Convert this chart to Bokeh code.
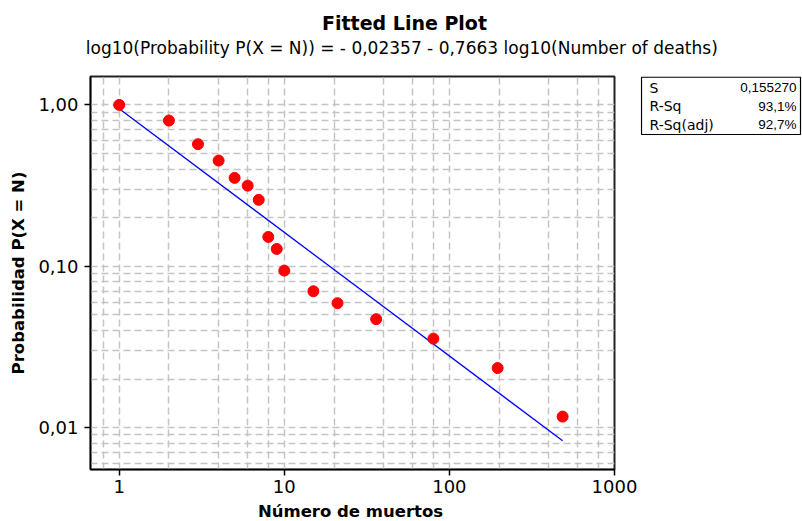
import numpy as np
from bokeh.plotting import figure
from bokeh.models import FixedTicker, ColumnDataSource, Range1d
from bokeh.layouts import column, row
from bokeh.core.properties import value
from bokeh.embed import file_html
from bokeh.resources import INLINE

# ---- data ----
deaths = [1, 2, 3, 4, 5, 6, 7, 8, 9, 10, 15, 21, 36, 80, 196, 485]
prob = [1.00, 0.80, 0.571, 0.452, 0.353, 0.316, 0.258, 0.152, 0.128, 0.094,
        0.070, 0.059, 0.047, 0.0356, 0.0234, 0.0117]
intercept = -0.02357
slope = -0.7663
x_ticks = [1, 10, 100, 1000]
x_tick_labels = ["1", "10", "100", "1000"]
y_ticks = [1.0, 0.1, 0.01]
y_tick_labels = ["1,00", "0,10", "0,01"]
stat_names = ["S", "R-Sq", "R-Sq(adj)"]
stat_values = ["0,155270", "93,1%", "92,7%"]
title_text = "Fitted Line Plot"
subtitle_text = "log10(Probability P(X = N)) =  - 0,02357 - 0,7663 log10(Number of deaths)"
x_label = "Número de muertos"
y_label = "Probabilidad P(X = N)"

FONT = "DejaVu Sans"
W, H = 802, 521
HEAD = 62           # header strip height
FOOT = 20           # footer strip height (x-axis title)
MAIN_W = 640        # main figure width
SIDE_W = W - MAIN_W
F_TOP, F_BOT = 76, 469   # frame top/bottom in canvas pixels
MAIN_H = H - HEAD - FOOT


def blank(width, height, xr, yr):
    f = figure(width=width, height=height, x_range=Range1d(*xr), y_range=Range1d(*yr),
               output_backend="svg", toolbar_location=None,
               min_border=0, min_border_left=0, min_border_right=0,
               min_border_top=0, min_border_bottom=0)
    f.axis.visible = False
    f.grid.visible = False
    f.outline_line_color = None
    f.background_fill_color = "white"
    f.border_fill_color = "white"
    return f


# ---- header (title + subtitle), canvas pixel coordinates, y downwards ----
head = blank(W, HEAD, (0, W), (HEAD, 0))
head.text(x=[404], y=[22], text=[title_text], text_font=value(FONT), text_font_size="19px",
          text_font_style="bold", text_align="center", text_baseline="middle", text_color="black")
head.text(x=[404], y=[47], text=[subtitle_text], text_font=value(FONT), text_font_size="17px",
          text_align="center", text_baseline="middle", text_color="black")

# ---- main plot ----
p = figure(width=MAIN_W, height=MAIN_H, x_axis_type="log", y_axis_type="log",
           x_range=Range1d(0.670, 1000), y_range=Range1d(0.0055, 1.50),
           output_backend="svg", toolbar_location=None,
           min_border_left=90, min_border_right=MAIN_W - 614,
           min_border_top=F_TOP - HEAD, min_border_bottom=(H - FOOT) - F_BOT)
p.title.visible = False
p.background_fill_color = "white"
p.border_fill_color = "white"
p.outline_line_color = "#222222"
p.outline_line_width = 2

xg = []
for d in [0.1, 1, 10, 100]:
    for m in [2, 4, 6, 8, 10]:
        v = m * d
        if 0.67 < v < 1000:
            xg.append(v)
yg = []
for d in [0.001, 0.01, 0.1]:
    for m in range(1, 11):
        v = m * d
        if 0.0055 < v < 1.5:
            yg.append(v)
p.xgrid.ticker = FixedTicker(ticks=xg)
p.ygrid.ticker = FixedTicker(ticks=yg)
for g in (p.xgrid, p.ygrid):
    g.grid_line_color = "#c4c4c4"
    g.grid_line_dash = "7 4"
    g.grid_line_width = 1.5

p.xaxis.ticker = FixedTicker(ticks=x_ticks)
p.yaxis.ticker = FixedTicker(ticks=y_ticks)
p.xaxis.major_label_overrides = {t: l for t, l in zip(x_ticks, x_tick_labels)}
p.yaxis.major_label_overrides = {t: l for t, l in zip(y_ticks, y_tick_labels)}
for ax in (p.xaxis, p.yaxis):
    ax.axis_line_color = "black"
    ax.axis_line_width = 1.5
    ax.major_tick_line_color = "black"
    ax.major_tick_line_width = 1.5
    ax.major_tick_out = 6
    ax.major_tick_in = 0
    ax.minor_tick_out = 0
    ax.minor_tick_in = 0
    ax.major_label_text_font = FONT
    ax.major_label_text_font_size = "18px"
    ax.major_label_text_color = "black"
    ax.axis_label_text_font = FONT
    ax.axis_label_text_font_size = "16.5px"
    ax.axis_label_text_font_style = "bold"
    ax.axis_label_text_color = "black"
p.yaxis.axis_label = y_label
p.xaxis.major_label_standoff = 4
p.yaxis.major_label_standoff = 6
p.yaxis.axis_label_standoff = 7

lx = np.array([min(deaths), max(deaths)], dtype=float)
ly = 10 ** (intercept + slope * np.log10(lx))
p.line(lx, ly, line_color="#0000ff", line_width=1.3)

src = ColumnDataSource(dict(x=deaths, y=prob))
p.scatter("x", "y", source=src, size=11, fill_color="#ff0000", line_color="#ff0000")

# ---- side panel with stats box; its frame is aligned with the main frame ----
side = blank(SIDE_W, MAIN_H, (MAIN_W, W), (F_BOT, F_TOP))
side.quad(left=[641], right=[800], top=[76.6], bottom=[134], fill_color="white",
          line_color="black", line_width=1.2)
rows_y = [87, 105.5, 124]
side.text(x=[649] * 3, y=rows_y, text=stat_names, text_font=value(FONT), text_font_size="14px",
          text_align="left", text_baseline="middle", text_color="black")
side.text(x=[796] * 3, y=rows_y, text=stat_values, text_font=value("Liberation Sans"),
          text_font_size="13.5px", text_align="right", text_baseline="middle", text_color="black")

# ---- footer with x-axis title, canvas pixel coordinates ----
foot = blank(W, FOOT, (0, W), (H, H - FOOT))
foot.text(x=[350], y=[511], text=[x_label], text_font=value(FONT), text_font_size="16.5px",
          text_font_style="bold", text_align="center", text_baseline="middle", text_color="black")

layout = column(head, row(p, side, spacing=0), foot, spacing=0)
open("out.html", "w").write(file_html(layout, INLINE))
